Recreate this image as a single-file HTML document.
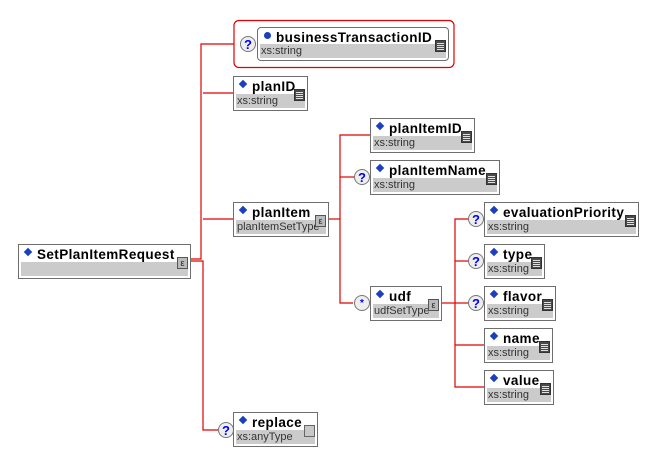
<!DOCTYPE html>
<html><head><meta charset="utf-8">
<style>
body{margin:0;width:654px;height:464px;background:#fff;position:relative;overflow:hidden;font-family:"Liberation Sans",sans-serif}
.b{position:absolute;border:1px solid #6e6e6e;background:#fff;box-sizing:border-box;box-shadow:inset 0 0 0 1px #fff}
.b .g{position:absolute;left:2px;right:2px;bottom:2px;height:14px;background:#cbcbcb;font-size:11px;color:#333;line-height:14px;padding-left:1px;white-space:nowrap;overflow:hidden}
.b .n{position:absolute;left:18px;top:2px;font-weight:bold;font-size:13.5px;letter-spacing:0.4px;color:#000;white-space:nowrap}
.b .d{position:absolute;left:6px;top:4px;width:6px;height:6px;background:#1a3fc0;transform:rotate(45deg)}
.ic{position:absolute;right:2px;top:12px;width:11px;height:12px;box-sizing:border-box;z-index:2}
.doc{background:#4a4a4a;border:1px solid #333}
.doc:before{content:"";position:absolute;left:1px;top:2px;width:7px;height:7px;background:repeating-linear-gradient(#e0e0e0 0 1px,#4a4a4a 1px 2px)}
.cx{background:#bbb;border:1px solid #555;font-size:9px;line-height:10px;text-align:center;color:#222}
.any{background:#c8c8c8;border:1px solid #666}
.q{position:absolute;width:16px;height:16px;border:1px solid #777;border-radius:50%;background:#eee;box-sizing:border-box;color:#0000ee;font-weight:bold;font-size:13px;line-height:15px;text-align:center}
</style></head><body>
<svg width="654" height="464" style="position:absolute;left:0;top:0">
<g stroke="#e00000" stroke-width="1.2" fill="none">
<polyline points="190,259 201,259 201,44 234,44"/>
<polyline points="190,261 203,261 203,430 219,430"/>
<polyline points="203,93 233,93"/>
<polyline points="203,219 233,219"/>
<polyline points="328,219 340,219"/>
<polyline points="370,135 340,135 340,303 353,303"/>
<polyline points="340,177 355,177"/>
<polyline points="441,303 455,303"/>
<polyline points="470,219 455,219 455,387 484,387"/>
<polyline points="455,261 470,261"/>
<polyline points="455,303 470,303"/>
<polyline points="455,345 484,345"/>
</g>
<rect x="234" y="20.5" width="220" height="47" rx="5" fill="none" stroke="#e00000" stroke-width="1.2"/>
</svg>

<div class="q" style="left:240px;top:36px">?</div>
<div class="b" style="left:257px;top:27px;width:192px;height:34px;border-radius:4px"><span class="d" style="border-radius:50%;transform:none;width:7px;height:7px;top:4px"></span><span class="n">businessTransactionID</span><div class="ic doc"></div><div class="g">xs:string</div></div>

<div class="b" style="left:18px;top:244px;width:173px;height:35px"><span class="d"></span><span class="n">SetPlanItemRequest</span><div class="ic cx">ε</div><div class="g"></div></div>

<div class="b" style="left:233px;top:76px;width:75px;height:35px"><span class="d"></span><span class="n">planID</span><div class="ic doc"></div><div class="g">xs:string</div></div>

<div class="b" style="left:233px;top:202px;width:96px;height:35px"><span class="d"></span><span class="n">planItem</span><div class="ic cx">ε</div><div class="g">planItemSetType</div></div>

<div class="q" style="left:218px;top:422px">?</div>
<div class="b" style="left:233px;top:412px;width:85px;height:35px"><span class="d"></span><span class="n">replace</span><div class="ic any"></div><div class="g">xs:anyType</div></div>

<div class="b" style="left:370px;top:118px;width:105px;height:35px"><span class="d"></span><span class="n">planItemID</span><div class="ic doc"></div><div class="g">xs:string</div></div>

<div class="q" style="left:354px;top:169px">?</div>
<div class="b" style="left:370px;top:160px;width:130px;height:35px"><span class="d"></span><span class="n">planItemName</span><div class="ic doc"></div><div class="g">xs:string</div></div>

<div class="q" style="left:354px;top:295px;font-size:10px">*</div>
<div class="b" style="left:370px;top:286px;width:72px;height:35px"><span class="d"></span><span class="n">udf</span><div class="ic cx">ε</div><div class="g">udfSetType</div></div>

<div class="q" style="left:468px;top:211px">?</div>
<div class="b" style="left:484px;top:202px;width:155px;height:35px"><span class="d"></span><span class="n">evaluationPriority</span><div class="ic doc"></div><div class="g">xs:string</div></div>

<div class="q" style="left:468px;top:253px">?</div>
<div class="b" style="left:484px;top:244px;width:61px;height:35px"><span class="d"></span><span class="n">type</span><div class="ic doc"></div><div class="g">xs:string</div></div>

<div class="q" style="left:468px;top:295px">?</div>
<div class="b" style="left:484px;top:286px;width:72px;height:35px"><span class="d"></span><span class="n">flavor</span><div class="ic doc"></div><div class="g">xs:string</div></div>

<div class="b" style="left:484px;top:328px;width:69px;height:35px"><span class="d"></span><span class="n">name</span><div class="ic doc"></div><div class="g">xs:string</div></div>

<div class="b" style="left:484px;top:370px;width:70px;height:35px"><span class="d"></span><span class="n">value</span><div class="ic doc"></div><div class="g">xs:string</div></div>
</body></html>
